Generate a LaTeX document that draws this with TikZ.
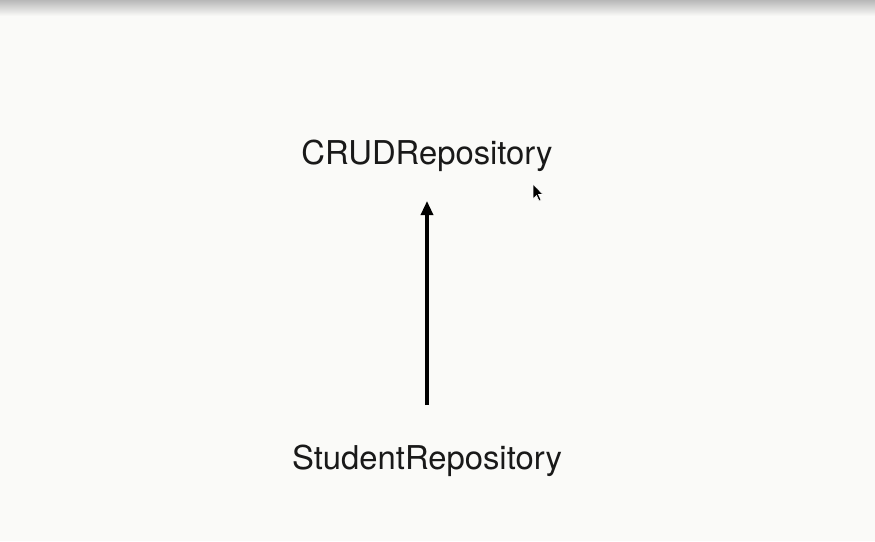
\documentclass[tikz,border=0pt]{standalone}
\usepackage{fontspec}
\setmainfont{TeX Gyre Heros}
\usetikzlibrary{arrows.meta}
\definecolor{bg}{HTML}{FAFAF8}
\definecolor{shade}{HTML}{B8B8B8}
\tikzset{
  label text/.style={font=\fontsize{32.8}{40}\selectfont, text=black!90, inner sep=0pt, anchor=base},
  inherit/.style={line width=3.2pt, -{Triangle[length=14pt,width=12pt]}},
}
\begin{document}
\begin{tikzpicture}[x=1pt,y=-1pt]
\useasboundingbox (0,0) rectangle (875,541);
\fill[bg] (0,0) rectangle (875,541);
\shade[top color=shade, bottom color=bg] (0,0) rectangle (875,16);
\node[label text] (crud) at (427,164) {CRUDRepository};
\node[label text] (student) at (427,469) {StudentRepository};
\coordinate (tail) at (427,405);
\coordinate (tip) at (427,201);
\draw[inherit] (tail) -- (tip);
% mouse pointer
\filldraw[black, draw=white, line width=0.6pt] (533,184) -- (533,199) -- (536.5,195.5) -- (539,201) -- (541,200) -- (538.5,194.5) -- (543,194.5) -- cycle;
\end{tikzpicture}
\end{document}
